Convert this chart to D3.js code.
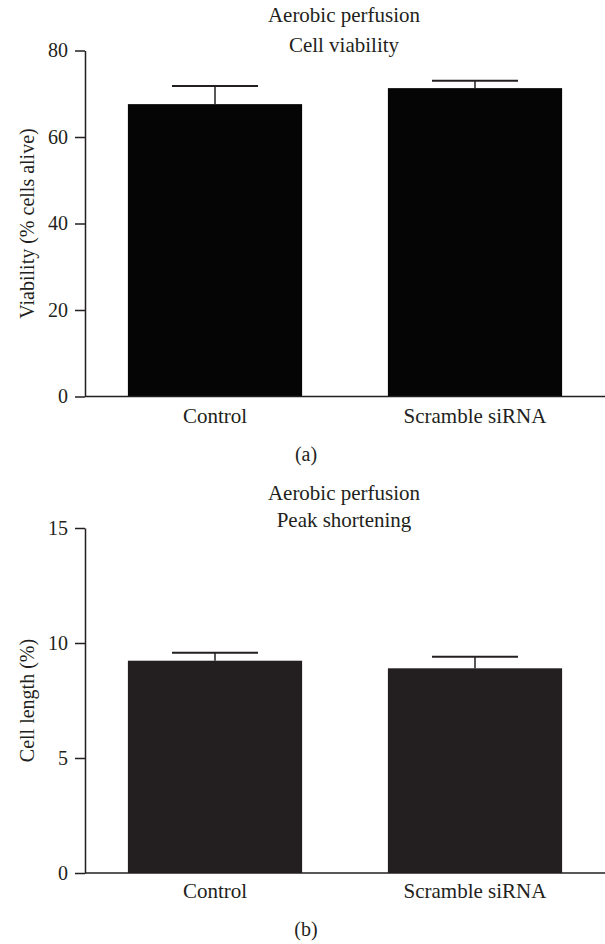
<!DOCTYPE html>
<html>
<head>
<meta charset="utf-8">
<script src="https://cdn.jsdelivr.net/npm/d3@7"></script>
<style>
  html, body { margin: 0; padding: 0; background: #fff; }
  svg { display: block; }
  text { font-family: "Liberation Serif", "DejaVu Serif", serif; fill: #231f20; }
</style>
</head>
<body>
<svg id="chart" width="605" height="944"></svg>
<script>
// Group labels shared by both panels
const categories = ["Control", "Scramble siRNA"];

// Panel (a): cell viability, aerobic perfusion
const viabilityMean = [67.6, 71.3];
const viabilityErr = [4.2, 1.7];
const viabilityTicks = [0, 20, 40, 60, 80];

// Panel (b): peak shortening, aerobic perfusion
const shorteningMean = [9.23, 8.90];
const shorteningErr = [0.35, 0.50];
const shorteningTicks = [0, 5, 10, 15];

const svg = d3.select("#chart");
const ink = "#231f20";

const x = d3.scaleBand()
  .domain(categories)
  .range([85, 605])
  .paddingInner(0.33)
  .paddingOuter(0.165);

function panel(cfg) {
  const g = svg.append("g");
  const y = d3.scaleLinear().domain(cfg.domain).range(cfg.range);

  // title (two lines)
  cfg.title.forEach((t, i) => {
    g.append("text")
      .attr("x", 344)
      .attr("y", cfg.titleY[i])
      .attr("text-anchor", "middle")
      .style("font-size", "21px")
      .text(t);
  });

  // bars
  g.selectAll("rect.bar")
    .data(categories)
    .join("rect")
    .attr("class", "bar")
    .attr("x", d => x(d))
    .attr("width", x.bandwidth())
    .attr("y", (d, i) => y(cfg.mean[i]))
    .attr("height", (d, i) => y(0) - y(cfg.mean[i]))
    .attr("fill", cfg.fill);

  // error bars (upper only)
  const eb = g.selectAll("g.err")
    .data(categories)
    .join("g")
    .attr("class", "err");
  eb.append("line")
    .attr("x1", d => x(d) + x.bandwidth() / 2)
    .attr("x2", d => x(d) + x.bandwidth() / 2)
    .attr("y1", (d, i) => y(cfg.mean[i]))
    .attr("y2", (d, i) => y(cfg.mean[i] + cfg.err[i]))
    .attr("stroke", ink)
    .attr("stroke-width", 1.5);
  eb.append("line")
    .attr("x1", d => x(d) + x.bandwidth() / 2 - 43)
    .attr("x2", d => x(d) + x.bandwidth() / 2 + 43)
    .attr("y1", (d, i) => y(cfg.mean[i] + cfg.err[i]))
    .attr("y2", (d, i) => y(cfg.mean[i] + cfg.err[i]))
    .attr("stroke", ink)
    .attr("stroke-width", 2);

  // y axis
  const ya = g.append("g")
    .attr("transform", "translate(85,0)")
    .call(d3.axisLeft(y).tickValues(cfg.ticks).tickSize(10).tickSizeOuter(0).tickPadding(7));
  ya.selectAll("path, line").attr("stroke", ink).attr("stroke-width", 1.5);
  ya.selectAll("text")
    .style("font-size", "20px")
    .style("font-family", '"Liberation Serif", serif')
    .attr("fill", ink);

  // x axis baseline
  g.append("line")
    .attr("x1", 85).attr("x2", 605)
    .attr("y1", y(0)).attr("y2", y(0))
    .attr("stroke", ink)
    .attr("stroke-width", 1.5);

  // category labels
  g.selectAll("text.cat")
    .data(categories)
    .join("text")
    .attr("class", "cat")
    .attr("x", d => x(d) + x.bandwidth() / 2)
    .attr("y", y(0) + cfg.catOffset)
    .attr("text-anchor", "middle")
    .style("font-size", "21px")
    .text(d => d);

  // y axis title
  g.append("text")
    .attr("transform", `translate(34,${(cfg.range[0] + cfg.range[1]) / 2}) rotate(-90)`)
    .attr("text-anchor", "middle")
    .style("font-size", "20px")
    .text(cfg.yLabel);

  // panel letter
  g.append("text")
    .attr("x", 306)
    .attr("y", cfg.letterY)
    .attr("text-anchor", "middle")
    .style("font-size", "20px")
    .text(cfg.letter);
}

panel({
  domain: [0, 80], range: [396.5, 50.5], ticks: viabilityTicks,
  mean: viabilityMean, err: viabilityErr, fill: "#050505",
  title: ["Aerobic perfusion", "Cell viability"], titleY: [22, 52],
  yLabel: "Viability (% cells alive)", catOffset: 26, letter: "(a)", letterY: 461
});

panel({
  domain: [0, 15], range: [873, 528], ticks: shorteningTicks,
  mean: shorteningMean, err: shorteningErr, fill: "#231f20",
  title: ["Aerobic perfusion", "Peak shortening"], titleY: [500, 527],
  yLabel: "Cell length (%)", catOffset: 25, letter: "(b)", letterY: 936
});
</script>
</body>
</html>
